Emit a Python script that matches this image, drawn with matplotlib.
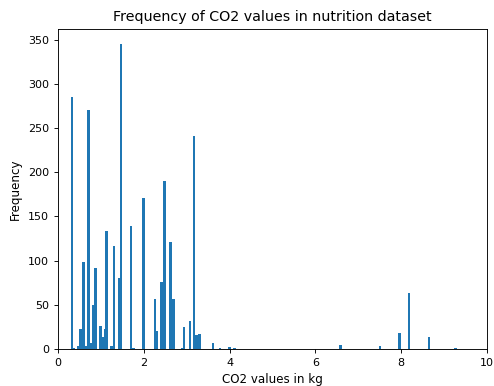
import matplotlib
matplotlib.use('Agg')
import matplotlib.pyplot as plt

# CO2 value (bin centre, kg) and how often it occurs
co2 = [0.33, 0.38, 0.48, 0.53, 0.60, 0.65, 0.71, 0.77, 0.83, 0.88,
       0.99, 1.04, 1.10, 1.14, 1.25, 1.31, 1.43, 1.47, 1.71, 1.76,
       2.00, 2.26, 2.31, 2.41, 2.49, 2.63, 2.69, 2.89, 2.94,
       3.08, 3.17, 3.23, 3.30, 3.62, 3.78, 4.00, 4.12,
       6.58, 7.51, 7.96, 8.18, 8.65, 9.27]
freq = [285, 1, 3, 23, 98, 3, 270, 7, 50, 92,
        26, 14, 23, 133, 3, 116, 80, 345, 139, 1,
        171, 56, 20, 76, 190, 121, 57, 1, 25,
        32, 241, 16, 17, 7, 1.5, 2, 1,
        4, 3, 18, 63, 13, 1]

# reference looks like it was saved at a lower dpi, so scale sizes down
plt.rcParams['xtick.labelsize'] = 8.0
plt.rcParams['ytick.labelsize'] = 8.0
plt.rcParams['axes.labelsize'] = 8.6
plt.rcParams['axes.titlesize'] = 10.3
plt.rcParams['axes.linewidth'] = 0.65
plt.rcParams['xtick.major.size'] = 2.8
plt.rcParams['ytick.major.size'] = 2.8
plt.rcParams['xtick.major.width'] = 0.65
plt.rcParams['ytick.major.width'] = 0.65

fig, ax = plt.subplots(figsize=(4.94, 3.86), dpi=100)
fig.subplots_adjust(left=0.117, right=0.986, top=0.925, bottom=0.096)

ax.bar(co2, freq, width=0.06, color='#1f77b4')
ax.set_xlim(0, 10)
ax.set_ylim(0, 362)
ax.set_title('Frequency of CO2 values in nutrition dataset')
ax.set_xlabel('CO2 values in kg')
ax.set_ylabel('Frequency')

fig.savefig('out.png', dpi=100)
